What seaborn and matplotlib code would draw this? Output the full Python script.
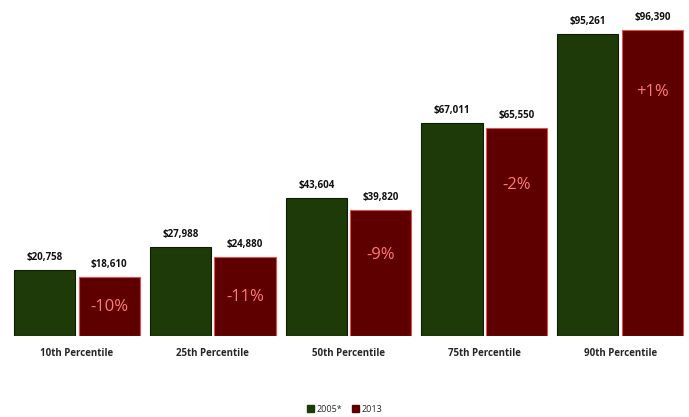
import matplotlib
matplotlib.use("Agg")
import matplotlib.pyplot as plt
import seaborn as sns
import pandas as pd
import numpy as np

categories = ["10th Percentile", "25th Percentile", "50th Percentile", "75th Percentile", "90th Percentile"]
series = ["2005*", "2013"]
values_2005 = [20758, 27988, 43604, 67011, 95261]
values_2013 = [18610, 24880, 39820, 65550, 96390]
changes = ["-10%", "-11%", "-9%", "-2%", "+1%"]

df = pd.DataFrame({
    "category": categories * 2,
    "year": [series[0]] * 5 + [series[1]] * 5,
    "income": values_2005 + values_2013,
})

sns.set_theme(style="white")
plt.rcParams["font.family"] = ["Open Sans", "DejaVu Sans"]

fig = plt.figure(figsize=(6.89, 4.17), dpi=100)
ax = fig.add_axes([9/689, 81/417, 679/689, 326/417])

green = "#1d3a08"
red = "#5e0000"
sns.barplot(data=df, x="category", y="income", hue="year", palette=[green, red],
            width=0.95, gap=0.05, ax=ax, legend=False, saturation=1)

ax.set_ylim(0, 102690)
ax.set_xlim(-0.5, 4.5)
for s in ax.spines.values():
    s.set_visible(False)
ax.set_yticks([])
ax.set_xlabel("")
ax.set_ylabel("")
ax.tick_params(axis="x", length=0, pad=9)
for lab in ax.get_xticklabels():
    lab.set_fontsize(7)
    lab.set_fontweight("bold")

label_offsets = [22, 29, 33, 41, 45]
for ci, cont in enumerate(ax.containers):
    for i, bar in enumerate(cont):
        if ci == 0:
            bar.set_edgecolor("#0d1d02")
        else:
            bar.set_edgecolor("#e05050")
        bar.set_linewidth(0.8)
        h = bar.get_height()
        xc = bar.get_x() + bar.get_width() / 2
        ax.annotate(f"${h:,.0f}", (xc, h), xytext=(0, 5), textcoords="offset points",
                    ha="center", va="bottom", fontsize=7, fontweight="bold", color="#111111")
        if ci == 1:
            ax.annotate(changes[i], (xc, h), xytext=(0, -label_offsets[i]), textcoords="offset points",
                        ha="center", va="center", fontsize=12, color="#ff7a7a")

from matplotlib.patches import Patch
handles = [Patch(facecolor=green, edgecolor=green), Patch(facecolor=red, edgecolor=red)]
fig.legend(handles, series, loc="center", bbox_to_anchor=(0.5, 8/417), ncol=2,
           frameon=False, fontsize=6.5, handlelength=0.8, handleheight=0.8, handletextpad=0.3,
           columnspacing=1.0)

fig.savefig("out.png", dpi=100)
